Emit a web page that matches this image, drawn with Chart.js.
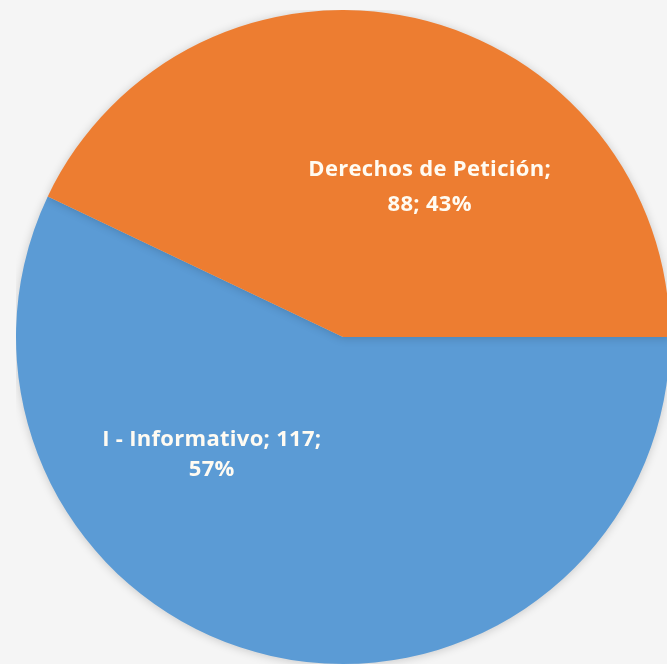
<!DOCTYPE html>
<html>
<head>
<meta charset="utf-8">
<script src="https://cdn.jsdelivr.net/npm/chart.js@4"></script>
<style>
  html, body { margin: 0; padding: 0; background: #f5f5f5; width: 667px; height: 664px; overflow: hidden; }
  #wrap { position: absolute; left: 16px; top: 10px; width: 654px; height: 654px; }
</style>
</head>
<body>
<div id="wrap"><canvas id="c" width="654" height="654"></canvas></div>
<script>
const categories = ["I - Informativo", "Derechos de Petición"];
const values = [117, 88];
const colors = ["#5B9BD5", "#ED7D31"];
// label placement: angle (deg, canvas coords) and fraction of radius
const labelAngles = [138, -60];
const labelRadii = [0.54, 0.53];

const total = values.reduce((a, b) => a + b, 0);

const shadowPlugin = {
  id: 'shadow',
  beforeDatasetsDraw(chart) {
    const ctx = chart.ctx;
    ctx.save();
    ctx.shadowColor = 'rgba(0,0,0,0.18)';
    ctx.shadowBlur = 10;
    ctx.shadowOffsetX = 0;
    ctx.shadowOffsetY = 1;
  },
  afterDatasetsDraw(chart) {
    chart.ctx.restore();
  }
};

const labelPlugin = {
  id: 'sliceLabels',
  afterDatasetsDraw(chart) {
    const ctx = chart.ctx;
    const meta = chart.getDatasetMeta(0);
    ctx.save();
    ctx.fillStyle = '#fffbf2';
    ctx.font = 'bold 22px "Open Sans", sans-serif';
    ctx.letterSpacing = '0.3px';
    ctx.textAlign = 'center';
    ctx.textBaseline = 'middle';
    meta.data.forEach((arc, i) => {
      const a = labelAngles[i] * Math.PI / 180;
      const r = arc.outerRadius * labelRadii[i];
      const x = arc.x + Math.cos(a) * r;
      const y = arc.y + Math.sin(a) * r;
      const pct = Math.round(values[i] / total * 100) + '%';
      let lines;
      if (i === 0) lines = [categories[i] + '; ' + values[i] + ';', pct];
      else lines = [categories[i] + ';', values[i] + '; ' + pct];
      const lh = i === 0 ? 30 : 35;
      lines.forEach((t, k) => {
        ctx.fillText(t, x, y + (k - (lines.length - 1) / 2) * lh);
      });
    });
    ctx.restore();
  }
};

new Chart(document.getElementById('c'), {
  type: 'pie',
  data: {
    labels: categories,
    datasets: [{
      data: values,
      backgroundColor: colors,
      borderWidth: 0,
      hoverOffset: 0,
      offset: 0
    }]
  },
  options: {
    responsive: false,
    animation: false,
    rotation: 90,
    layout: { padding: 0 },
    plugins: {
      legend: { display: false },
      tooltip: { enabled: false }
    }
  },
  plugins: [shadowPlugin, labelPlugin]
});
</script>
</body>
</html>
